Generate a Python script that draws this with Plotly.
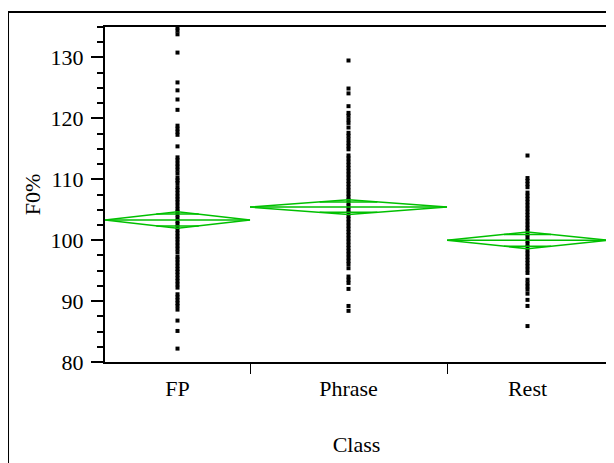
import numpy as np
import plotly.graph_objects as go

# ---- data ----
categories = ["FP", "Phrase", "Rest"]
group_sizes = [145, 197, 161]          # relative group sizes (JMP widths)
group_means = [103.31, 105.43, 99.98]
group_ci = [1.37, 1.20, 1.37]           # 95% CI half-width

fp_values = [134.9, 134.4, 133.8, 130.8, 125.9, 124.6, 123.1, 121.4, 118.8, 118.3,
             117.8, 117.3, 115.4, 113.6, 113.12, 112.57, 112.08, 111.55, 110.96,
             110.27, 109.81, 109.38, 108.72, 108.24, 107.69, 107.18, 106.71, 106.22,
             105.67, 105.13, 104.68, 104.19, 103.62, 103.11, 102.63, 102.17, 101.66,
             101.14, 100.62, 100.15, 99.63, 99.11, 98.59, 98.02, 97.31, 96.84, 96.33,
             95.79, 95.27, 94.81, 94.32, 93.78, 93.26, 92.74, 92.21, 91.12, 90.63,
             90.14, 89.65, 89.2, 88.6, 86.8, 85.1, 82.2]
phrase_values = [129.5, 124.9, 124.1, 122.0, 120.9, 120.42, 119.81, 119.25, 118.5,
                 117.63, 117.12, 116.54, 115.96, 115.43, 114.92, 113.91, 113.42,
                 112.88, 112.36, 111.84, 111.31, 110.79, 110.27, 109.72, 109.21,
                 108.69, 108.17, 107.63, 107.12, 106.58, 106.07, 105.54, 105.02,
                 104.49, 103.97, 103.44, 102.92, 102.39, 101.87, 101.34, 100.82,
                 100.29, 99.77, 99.24, 98.72, 98.19, 97.67, 97.14, 96.61, 96.08,
                 95.4, 94.03, 93.51, 92.98, 92.0, 89.2, 88.4]
rest_values = [113.9, 110.2, 109.72, 109.21, 108.7, 107.81, 107.29, 106.77, 106.24,
               105.71, 105.19, 104.66, 104.13, 103.61, 103.08, 102.55, 102.03,
               101.5, 100.97, 100.45, 99.92, 99.39, 98.87, 98.34, 97.81, 97.29,
               96.76, 96.23, 95.71, 95.18, 94.62, 93.5, 92.92, 92.41, 91.88, 91.22,
               90.2, 89.2, 85.9]
group_values = [fp_values, phrase_values, rest_values]

# ---- figure ----
GREEN = "#00C000"
edges = np.concatenate([[0], np.cumsum(group_sizes)])
centers = (edges[:-1] + edges[1:]) / 2
total = edges[-1]

fig = go.Figure()

for i, vals in enumerate(group_values):
    fig.add_trace(go.Scatter(
        x=[centers[i]] * len(vals), y=vals, mode="markers",
        marker=dict(symbol="square", size=4, color="black", line=dict(width=0)),
        showlegend=False, hoverinfo="y"))

for i in range(len(categories)):
    x0, x1, xc = edges[i], edges[i + 1], centers[i]
    m, c = group_means[i], group_ci[i]
    # outer diamond
    fig.add_trace(go.Scatter(
        x=[x0, xc, x1, xc, x0], y=[m, m + c, m, m - c, m], mode="lines",
        line=dict(color=GREEN, width=1.5), showlegend=False, hoverinfo="skip"))
    # mean line
    fig.add_trace(go.Scatter(
        x=[x0, x1], y=[m, m], mode="lines",
        line=dict(color=GREEN, width=1.5), showlegend=False, hoverinfo="skip"))
    # overlap marks
    f = np.sqrt(2) / 2
    half = (x1 - x0) / 2 * (1 - f)
    for s in (1, -1):
        fig.add_trace(go.Scatter(
            x=[xc - half, xc + half], y=[m + s * c * f] * 2, mode="lines",
            line=dict(color=GREEN, width=1.5), showlegend=False, hoverinfo="skip"))

FONT = "Liberation Serif, Times New Roman, serif"
FS = 22

fig.update_layout(
    width=614, height=463,
    margin=dict(l=97, r=14, t=19, b=109),
    paper_bgcolor="white", plot_bgcolor="white",
    font=dict(family=FONT, size=FS, color="black"),
    xaxis=dict(
        range=[0, total], tickmode="array", tickvals=list(centers), ticktext=categories,
        ticks="", showline=True, linewidth=2, linecolor="black", mirror=True,
        showgrid=False, zeroline=False, ticklabelstandoff=6,
        tickfont=dict(family=FONT, size=FS, color="black"),
        minor=dict(tickmode="array", tickvals=list(edges[1:-1]), ticks="outside",
                   ticklen=10, tickwidth=1, tickcolor="black", showgrid=False),
        title=dict(text="Class", standoff=36,
                   font=dict(family=FONT, size=FS, color="black")),
    ),
    yaxis=dict(
        range=[80, 135], tickmode="linear", tick0=80, dtick=10,
        ticks="outside", ticklen=12, tickwidth=2, tickcolor="black",
        showline=True, linewidth=2, linecolor="black", mirror=True,
        showgrid=False, zeroline=False, ticklabelstandoff=3,
        tickfont=dict(family=FONT, size=FS, color="black"),
        minor=dict(dtick=2.5, ticks="outside", ticklen=6, tickwidth=2,
                   tickcolor="black", showgrid=False),
        title=dict(text="F0%", standoff=4,
                   font=dict(family=FONT, size=FS, color="black")),
    ),
    shapes=[dict(type="rect", xref="paper", yref="paper",
                 x0=-0.1928, x1=1.03, y0=-0.35, y1=1.0448,
                 line=dict(color="black", width=2), layer="above")],
)

fig.write_html("out.html")
